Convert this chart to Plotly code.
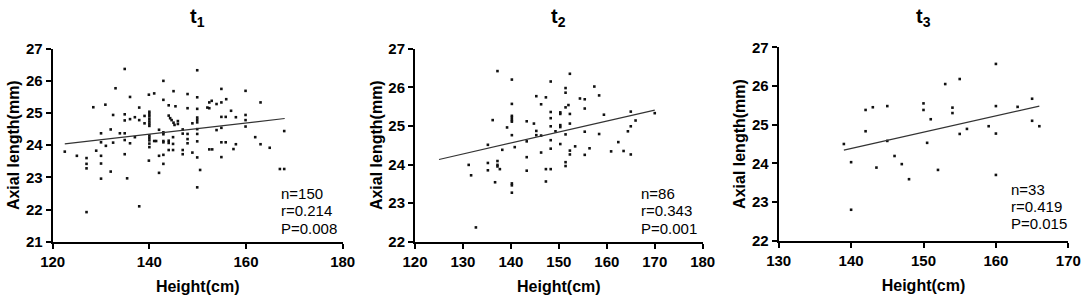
import plotly.graph_objects as go

# ---------------- data ----------------
t1_height = [134.9,133.0,136.0,128.4,130.9,132.5,134.9,134.9,136.0,132.0,130.0,133.9,134.9,130.0,131.0,132.5,134.9,136.0,122.5,125.0,
             127.0,127.0,127.0,129.0,130.0,130.0,134.9,132.0,130.0,135.4,127.0,
             149.9,142.9,145.0,141.0,139.9,147.9,149.9,142.9,144.0,145.4,137.9,147.9,149.9,137.0,137.9,139.0,139.0,
             140.0,140.0,140.0,140.0,140.0,140.0,140.0,
             144.0,144.3,144.6,145.0,145.2,145.9,145.9,148.9,149.9,149.9,149.9,137.0,
             140.0,140.0,140.0,140.0,140.0,141.0,141.4,142.0,142.9,142.9,142.9,142.9,
             144.0,144.0,144.9,144.9,146.9,146.9,147.9,147.9,147.9,149.9,149.9,149.9,
             139.9,142.0,142.9,144.0,144.9,146.9,146.9,148.9,149.9,142.9,142.0,150.5,149.9,137.9,152.4,153.0,
             152.4,152.9,152.4,152.0,153.9,154.9,155.9,
             154.9,159.9,163.0,156.9,154.9,155.8,157.9,159.9,159.9,153.9,154.9,159.9,167.9,161.9,163.0,164.9,
             154.9,155.8,157.9,157.4,154.9,167.0,167.9]
t1_axial = [26.37,25.77,25.50,25.18,25.26,24.94,24.96,24.77,24.81,24.49,24.37,24.37,24.37,24.09,23.98,24.08,24.16,24.06,23.80,23.67,
            23.60,23.42,23.28,23.83,23.67,23.43,23.72,23.18,22.96,22.97,21.92,
            26.33,26.00,25.68,25.61,25.57,25.59,25.49,25.41,25.24,25.21,25.17,25.15,25.13,24.87,24.78,24.91,24.68,
            25.04,24.97,24.90,24.82,24.74,24.67,24.60,
            24.92,24.84,24.78,24.70,24.63,24.75,24.66,24.68,24.86,24.79,24.71,24.25,
            24.30,24.23,24.15,24.05,23.94,24.13,24.13,24.48,24.40,24.34,24.13,24.09,
            24.14,24.07,24.25,24.04,24.49,24.36,24.35,24.19,24.06,24.50,24.35,24.12,
            23.52,23.67,23.70,23.85,23.85,23.85,23.72,23.77,23.62,23.42,23.14,23.23,22.69,22.10,23.87,23.87,
            25.33,25.38,25.15,25.17,25.28,25.33,25.43,
            25.75,25.69,25.33,25.07,24.88,24.88,24.87,24.94,24.78,24.47,24.54,24.58,24.44,24.25,24.03,23.92,
            24.09,24.09,24.03,23.88,23.63,23.26,23.26]
t1_fit_x = [122.5, 168.0]
t1_fit_y = [24.04, 24.83]

t2_height = [137.2,140.2,140.2,140.2,140.2,140.2,140.2,136.2,139.2,140.2,135.2,138.2,140.8,131.2,131.7,135.2,135.2,137.2,137.2,137.2,
             137.7,136.7,140.2,140.2,140.2,132.7,
             152.3,148.3,151.4,151.4,157.4,145.3,147.3,158.4,154.4,155.4,146.3,152.0,151.4,155.4,148.3,150.3,150.3,152.3,159.4,148.3,
             143.3,144.8,152.3,148.3,150.3,150.3,145.3,145.3,146.3,149.3,151.4,155.4,158.4,164.4,143.3,148.3,148.3,150.3,153.4,156.4,
             152.3,152.3,155.4,146.3,143.3,160.9,162.4,163.5,143.3,147.3,148.3,151.4,151.4,147.3,
             165.0,166.0,165.0,165.0,170.0]
t2_axial = [26.42,26.20,25.57,25.26,25.21,25.15,25.11,25.15,24.96,24.76,24.51,24.38,24.45,23.99,23.72,24.04,23.85,24.09,23.99,23.95,
            23.88,23.54,23.51,23.46,23.27,22.37,
            26.35,26.15,25.98,25.86,26.02,25.77,25.74,25.79,25.71,25.69,25.56,25.54,25.48,25.45,25.36,25.35,25.31,25.31,25.29,25.20,
            25.12,25.06,25.06,24.99,25.02,24.97,24.87,24.76,24.75,24.86,24.78,24.85,24.79,24.86,24.60,24.63,24.41,24.53,24.47,24.42,
            24.36,24.26,24.25,24.31,24.19,24.34,24.58,24.35,23.84,23.88,23.88,24.06,23.96,23.56,
            25.37,25.14,24.99,24.26,25.33]
t2_fit_x = [125.0, 170.0]
t2_fit_y = [24.13, 25.41]

t3_height = [139.0,140.0,140.0,142.0,142.0,143.0,145.0,145.0,143.5,146.0,147.0,148.0,150.0,150.0,151.0,150.5,152.0,
             160.0,155.0,153.0,154.0,154.0,160.0,163.0,165.0,165.0,166.0,159.0,156.0,155.0,160.0,160.0]
t3_axial = [24.50,24.03,22.80,25.38,24.83,25.45,25.48,24.58,23.89,24.19,23.98,23.59,25.55,25.38,25.14,24.53,23.83,
            26.57,26.18,26.05,25.44,25.30,25.48,25.46,25.67,25.10,24.96,24.96,24.89,24.76,24.77,23.70]
t3_fit_x = [139.0, 166.0]
t3_fit_y = [24.34, 25.48]

titles = ["t<sub>1</sub>", "t<sub>2</sub>", "t<sub>3</sub>"]
stats = [["n=150", "r=0.214", "P=0.008"],
         ["n=86", "r=0.343", "P=0.001"],
         ["n=33", "r=0.419", "P=0.015"]]
x_ranges = [[120, 180], [120, 180], [130, 170]]
x_dticks = [20, 10, 10]
y_ranges = [[21, 27], [22, 27], [22, 27]]

# ---------------- layout geometry ----------------
W, H = 1084, 299
x_dom_px = [(52.7, 342.7), (415.0, 702.7), (778.7, 1068.3)]
y_dom_px = [(48.7, 241.7), (48.7, 241.7), (47.3, 240.7)]
stat_pos_px = [(279, 193), (639, 193), (1008.5, 189)]
STAT_STEP = 17.5

FONT = "Liberation Sans, Arial, sans-serif"
fig = go.Figure()

series = [(t1_height, t1_axial, t1_fit_x, t1_fit_y),
          (t2_height, t2_axial, t2_fit_x, t2_fit_y),
          (t3_height, t3_axial, t3_fit_x, t3_fit_y)]

layout = dict(
    width=W, height=H, margin=dict(l=0, r=0, t=0, b=0),
    paper_bgcolor="white", plot_bgcolor="white", showlegend=False,
    font=dict(family=FONT, color="black"),
)
annotations = []
for i, (hx, ay, fx, fy) in enumerate(series):
    n = "" if i == 0 else str(i + 1)
    xa, ya = "x" + n, "y" + n
    fig.add_trace(go.Scatter(x=hx, y=ay, mode="markers", xaxis=xa, yaxis=ya,
                             marker=dict(size=2.6, color="#111", symbol="square"),
                             cliponaxis=False))
    fig.add_trace(go.Scatter(x=fx, y=fy, mode="lines", xaxis=xa, yaxis=ya,
                             line=dict(color="#333", width=1.2)))
    x0, x1 = x_dom_px[i]
    y0, y1 = y_dom_px[i]
    axis_common = dict(showline=True, linecolor="black", linewidth=2, ticks="outside",
                       ticklen=5, tickwidth=2, tickcolor="black", showgrid=False, zeroline=False,
                       automargin=False,
                       tickfont=dict(family=FONT, size=15, color="black", weight="bold"))
    layout["xaxis" + n] = dict(domain=[x0 / W, x1 / W], anchor=ya, range=x_ranges[i],
                               dtick=x_dticks[i], tick0=x_ranges[i][0],
                               title=dict(text="<b>Height(cm)</b>", standoff=12,
                                          font=dict(family=FONT, size=16, color="black")),
                               **axis_common)
    layout["yaxis" + n] = dict(domain=[1 - y1 / H, 1 - y0 / H], anchor=xa, range=y_ranges[i],
                               dtick=1, tick0=y_ranges[i][0],
                               title=dict(text="<b>Axial length(mm)</b>", standoff=2,
                                          font=dict(family=FONT, size=16, color="black")),
                               **axis_common)
    annotations.append(dict(text="<b>" + titles[i] + "</b>", xref="paper", yref="paper",
                            x=(x0 + x1) / 2 / W, y=1 - 18 / H, xanchor="center", yanchor="middle",
                            showarrow=False, font=dict(family=FONT, size=20, color="black")))
    sx, sy = stat_pos_px[i]
    for k, line in enumerate(stats[i]):
        annotations.append(dict(text=line, xref="paper", yref="paper",
                                x=sx / W, y=1 - (sy + k * STAT_STEP) / H, xanchor="left",
                                yanchor="middle", align="left", showarrow=False,
                                font=dict(family=FONT, size=15, color="black")))
layout["annotations"] = annotations
fig.update_layout(**layout)
fig.write_html("out.html", config={"displayModeBar": False, "staticPlot": True},
               post_script="document.body.style.margin='0';document.body.style.overflow='hidden';")
